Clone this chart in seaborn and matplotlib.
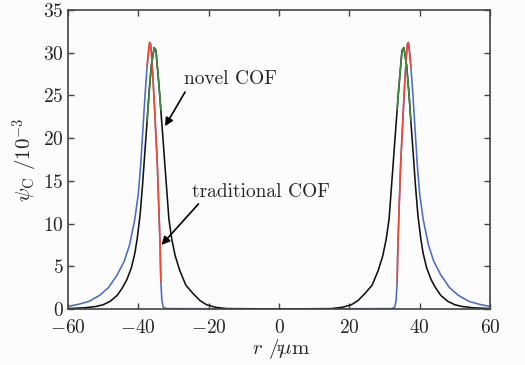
import matplotlib
matplotlib.use("Agg")
import numpy as np
import pandas as pd
import matplotlib.pyplot as plt
import seaborn as sns

# radius r (um) and psi_C (x 1e-3)
r_trad = [-60, -57, -54, -51, -48.5, -46, -44, -42.5, -41, -40, -39.3, -38.7, -38.1, -37.5,
          -37.2, -36.8, -36.5, -36.2, -35.7, -35.2, -34.6, -34.1, -33.8, -33.6,
          -33.3, -32.9, -32, 0,
          32, 32.9, 33.3, 33.6, 33.8, 34.1, 34.6, 35.2, 35.7, 36.2, 36.5, 36.8, 37.2,
          37.5, 38.1, 38.7, 39.3, 40, 41, 42.5, 44, 46, 48.5, 51, 54, 57, 60]
psi_trad = [0.3, 0.55, 0.9, 1.6, 2.5, 4.0, 5.6, 7.5, 10.5, 13.5, 17, 21, 25, 28.4,
            29.8, 31.2, 31.0, 29.5, 26, 22, 17, 11, 7.3, 3.2,
            1.0, 0.2, 0.05, 0,
            0.05, 0.2, 1.0, 3.2, 7.3, 11, 17, 22, 26, 29.5, 31.0, 31.2, 29.8,
            28.4, 25, 21, 17, 13.5, 10.5, 7.5, 5.6, 4.0, 2.5, 1.6, 0.9, 0.55, 0.3]

r_novel = [-60, -55, -52, -50, -48, -46, -44.5, -43.3, -42, -41, -40.3, -39.5, -38.8, -38.2, -37.5,
           -37.0, -36.3, -35.5, -35.0, -34.4, -33.9, -33.6,
           -33.0, -32.2, -31.3, -30.5, -29.5, -28.2, -26.5, -24.4, -22.5, -20.6, -18, -15, 0,
           15, 18, 20.6, 22.5, 24.4, 26.5, 28.2, 29.5, 30.5, 31.3, 32.2, 33.0,
           33.6, 33.9, 34.4, 35.0, 35.5, 36.3, 37.0,
           37.5, 38.2, 38.8, 39.5, 40.3, 41, 42, 43.3, 44.5, 46, 48, 50, 52, 55, 60]
psi_novel = [0.05, 0.15, 0.3, 0.5, 0.9, 1.6, 2.5, 3.4, 4.8, 6.5, 8.3, 11, 14.5, 18, 22,
             25, 28.5, 30.6, 30.3, 27.5, 25, 23.3,
             20, 15.5, 10.5, 8.2, 6.2, 4.5, 2.8, 1.8, 1.0, 0.5, 0.2, 0.05, 0,
             0.05, 0.2, 0.5, 1.0, 1.8, 2.8, 4.5, 6.2, 8.2, 10.5, 15.5, 20,
             23.3, 25, 27.5, 30.3, 30.6, 28.5, 25,
             22, 18, 14.5, 11, 8.3, 6.5, 4.8, 3.4, 2.5, 1.6, 0.9, 0.5, 0.3, 0.15, 0.05]

core_in, core_out = 33.6, 37.5

xticks = [-60, -40, -20, 0, 20, 40, 60]
yticks = [0, 5, 10, 15, 20, 25, 30, 35]


def pieces(r, psi, name_clad, name_core):
    r = np.asarray(r, float)
    psi = np.asarray(psi, float)
    clad = pd.DataFrame({"r": r, "psi": psi, "part": name_clad, "seg": "all"})
    core = (np.abs(r) >= core_in) & (np.abs(r) <= core_out)
    side = np.where(r < 0, "left", "right")
    core_df = pd.DataFrame({"r": r[core], "psi": psi[core], "part": name_core, "seg": side[core]})
    return [clad, core_df]


df = pd.concat(pieces(r_trad, psi_trad, "trad_clad", "trad_core")
               + pieces(r_novel, psi_novel, "novel_clad", "novel_core"), ignore_index=True)

sns.set_style("ticks")
plt.rcParams["font.family"] = ["cmr10", "DejaVu Serif"]
plt.rcParams["mathtext.fontset"] = "cm"
plt.rcParams["axes.formatter.use_mathtext"] = True
plt.rcParams["axes.unicode_minus"] = True

fig = plt.figure(figsize=(5.25, 3.65), dpi=100, facecolor="#fcfcfc")
ax = fig.add_axes([0.1295, 0.1534, 0.8038, 0.8192])
ax.set_facecolor("#fcfcfc")

palette = {"trad_clad": "#4a6cc8", "novel_clad": "#111111",
           "trad_core": "#f2462e", "novel_core": "#3c8a3c"}
sns.lineplot(data=df, x="r", y="psi", hue="part", units="seg", estimator=None, sort=False,
             hue_order=["trad_clad", "novel_clad", "trad_core", "novel_core"],
             palette=palette, linewidth=1.15, legend=False, ax=ax)

ax.set_xlim(-60, 60)
ax.set_ylim(0, 35)
ax.set_xticks(xticks)
ax.set_yticks(yticks)
ax.tick_params(direction="in", length=4, width=1, top=True, right=True, labelsize=14,
               color="#444444")
ax.tick_params(axis="x", pad=7)
ax.tick_params(axis="y", pad=3)
for s in ax.spines.values():
    s.set_color("#444444")
    s.set_linewidth(1.2)

# axis labels
ax.set_ylabel(r"$\psi_{\rm C}$ /10$^{-3}$", fontsize=15, labelpad=2)
fig.text(281 / 525, 11 / 365, r"$r$ /$\mu$m", fontsize=15, ha="center", va="baseline")

# annotations
ax.text(-13.9, 26.9, "novel COF", fontsize=14, ha="center", va="center")
ax.annotate("", xy=(-32.4, 21.4), xytext=(-26.7, 25.4),
            arrowprops=dict(arrowstyle="-|>", color="k", lw=1.2, mutation_scale=12,
                            shrinkA=0, shrinkB=0))
ax.text(-5.1, 13.7, "traditional COF", fontsize=14, ha="center", va="center")
ax.annotate("", xy=(-33.4, 7.5), xytext=(-22.9, 12.3),
            arrowprops=dict(arrowstyle="-|>", color="k", lw=1.2, mutation_scale=12,
                            shrinkA=0, shrinkB=0))

fig.savefig("out.png", dpi=100, facecolor=fig.get_facecolor())
